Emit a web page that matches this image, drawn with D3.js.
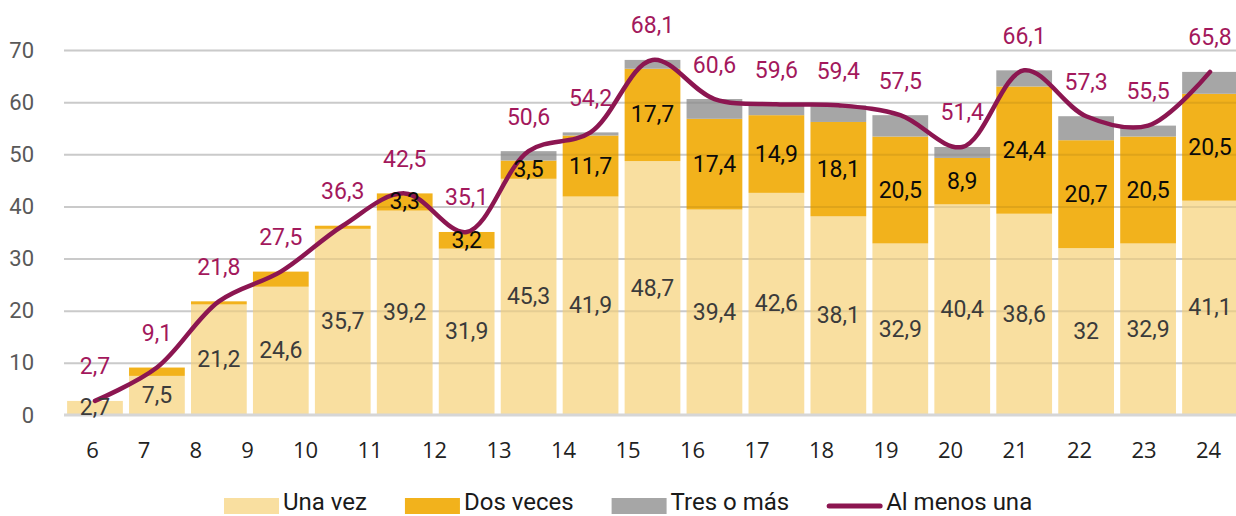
<!DOCTYPE html>
<html>
<head>
<meta charset="utf-8">
<script src="https://cdn.jsdelivr.net/npm/d3@7"></script>
<style>
  body { margin: 0; background: #fff; }
  svg { display: block; font-family: Roboto, sans-serif; }
</style>
</head>
<body>
<svg id="chart" width="1236" height="516"></svg>
<script>
const edades = [6, 7, 8, 9, 10, 11, 12, 13, 14, 15, 16, 17, 18, 19, 20, 21, 22, 23, 24];
const unaVez = [2.7, 7.5, 21.2, 24.6, 35.7, 39.2, 31.9, 45.3, 41.9, 48.7, 39.4, 42.6, 38.1, 32.9, 40.4, 38.6, 32, 32.9, 41.1];
const dosVeces = [0, 1.6, 0.6, 2.9, 0.6, 3.3, 3.2, 3.5, 11.7, 17.7, 17.4, 14.9, 18.1, 20.5, 8.9, 24.4, 20.7, 20.5, 20.5];
const tresOMas = [0, 0, 0, 0, 0, 0, 0, 1.8, 0.6, 1.7, 3.8, 2.1, 3.2, 4.1, 2.1, 3.1, 4.6, 2.1, 4.2];
const alMenosUna = [2.7, 9.1, 21.8, 27.5, 36.3, 42.5, 35.1, 50.6, 54.2, 68.1, 60.6, 59.6, 59.4, 57.5, 51.4, 66.1, 57.3, 55.5, 65.8];
const yTicks = [0, 10, 20, 30, 40, 50, 60, 70];

const series = [
  { name: 'Una vez', values: unaVez, color: '#f9dfa0', label: '#3b3b3b', min: 0 },
  { name: 'Dos veces', values: dosVeces, color: '#f2b21c', label: '#0a0a0a', min: 3 },
  { name: 'Tres o más', values: tresOMas, color: '#a6a6a6', label: null, min: Infinity }
];
const lineName = 'Al menos una';
const lineColor = '#8c1651';
const lineLabelColor = '#a3185c';

const fmt = v => String(v).replace('.', ',');

const W = 1236, left = 64;
const svg = d3.select('#chart');

const x = d3.scaleBand().domain(edades).range([left, 1241]).paddingInner(0.1).paddingOuter(0.05);
const y = d3.scaleLinear().domain([0, 70]).range([415, 50]);
// tick labels in the original sit a bit left of the bars on the left side
const xLabel = d3.scaleLinear().domain([6, 9, 10, 24]).range([92, 247, 305, 1208]);

// grid under bars
const gridG = svg.append('g')
  .attr('transform', `translate(${left},0)`)
  .call(d3.axisLeft(y).tickValues(yTicks.slice(1)).tickSize(-(W - left)).tickFormat(''));
gridG.select('.domain').remove();
gridG.selectAll('line').attr('stroke', '#dcdcdc').attr('stroke-width', 2);

// stacked bars
const stacked = edades.map((e, i) => {
  let base = 0;
  return series.map(s => {
    const seg = { edad: e, y0: base, y1: base + s.values[i], v: s.values[i], s };
    base += s.values[i];
    return seg;
  });
});

const barG = svg.append('g');
stacked.forEach(segs => {
  segs.forEach(d => {
    if (d.v <= 0) return;
    barG.append('rect')
      .attr('x', x(d.edad))
      .attr('width', x.bandwidth())
      .attr('y', y(d.y1))
      .attr('height', y(d.y0) - y(d.y1))
      .attr('fill', d.s.color);
  });
});

// faint grid on top of bars
const gridTop = svg.append('g')
  .attr('transform', `translate(${left},0)`)
  .call(d3.axisLeft(y).tickValues(yTicks.slice(1)).tickSize(-(W - left)).tickFormat(''));
gridTop.select('.domain').remove();
gridTop.selectAll('line').attr('stroke', 'rgba(0,0,0,0.08)').attr('stroke-width', 2);

// zero line
svg.append('line')
  .attr('x1', left).attr('x2', W)
  .attr('y1', y(0)).attr('y2', y(0))
  .attr('stroke', '#d6d6d6').attr('stroke-width', 3);

// y axis labels
const yAx = svg.append('g')
  .attr('transform', 'translate(34,0)')
  .call(d3.axisLeft(y).tickValues(yTicks).tickSize(0).tickPadding(0));
yAx.select('.domain').remove();
yAx.selectAll('text')
  .attr('font-family', 'Roboto, sans-serif')
  .attr('font-size', 22)
  .attr('fill', '#595959');

// x axis labels
const xAx = svg.append('g')
  .attr('transform', 'translate(0,442)')
  .call(d3.axisBottom(xLabel).tickValues(edades).tickFormat(d3.format('d')).tickSize(0).tickPadding(0));
xAx.select('.domain').remove();
xAx.selectAll('text')
  .attr('font-family', '"Open Sans", sans-serif')
  .attr('font-size', 22)
  .attr('fill', '#222');

// line
const cx = e => x(e) + x.bandwidth() / 2;
const line = d3.line()
  .x((d, i) => cx(edades[i]))
  .y(d => y(d))
  .curve(d3.curveCatmullRom);
svg.append('path')
  .datum(alMenosUna)
  .attr('d', line)
  .attr('fill', 'none')
  .attr('stroke', lineColor)
  .attr('stroke-width', 4.5)
  .attr('stroke-linecap', 'round');

// segment labels
const labG = svg.append('g').attr('font-size', 23).attr('text-anchor', 'middle');
stacked.forEach(segs => {
  segs.forEach(d => {
    if (!d.s.label || d.v < d.s.min || d.v <= 0) return;
    labG.append('text')
      .attr('x', cx(d.edad))
      .attr('y', y((d.y0 + d.y1) / 2))
      .attr('dominant-baseline', 'central')
      .attr('fill', d.s.label)
      .text(fmt(d.v));
  });
});

// line labels
alMenosUna.forEach((v, i) => {
  labG.append('text')
    .attr('x', cx(edades[i]))
    .attr('y', y(v) - 34)
    .attr('dominant-baseline', 'central')
    .attr('fill', lineLabelColor)
    .text(fmt(v));
});

// legend
const legend = svg.append('g').attr('font-size', 24).attr('fill', '#1a1a1a');
let lx = 224;
const items = series.map(s => ({ name: s.name, color: s.color, type: 'rect' }))
  .concat([{ name: lineName, color: lineColor, type: 'line' }]);
items.forEach(it => {
  if (it.type === 'rect') {
    legend.append('rect')
      .attr('x', lx).attr('y', 498).attr('width', 55).attr('height', 16)
      .attr('fill', it.color);
  } else {
    legend.append('line')
      .attr('x1', lx + 2).attr('x2', lx + 53)
      .attr('y1', 506).attr('y2', 506)
      .attr('stroke', it.color).attr('stroke-width', 5).attr('stroke-linecap', 'round');
  }
  const t = legend.append('text')
    .attr('x', lx + 59).attr('y', 510)
    .text(it.name);
  lx += 59 + t.node().getComputedTextLength() + 38;
});
</script>
</body>
</html>
